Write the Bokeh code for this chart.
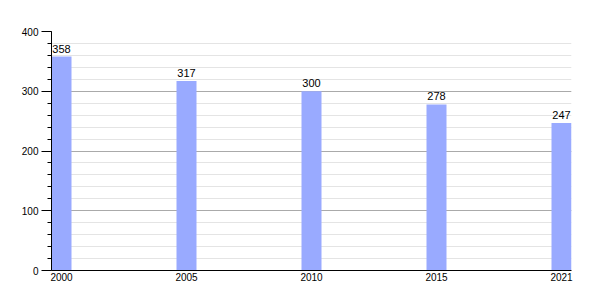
from bokeh.plotting import figure
from bokeh.models import ColumnDataSource, SingleIntervalTicker, FixedTicker, Range1d
from bokeh.core.properties import value
from bokeh.embed import file_html
from bokeh.resources import INLINE

years = ["2000", "2005", "2010", "2015", "2021"]
population = [358, 317, 300, 278, 247]

xs = list(range(len(years)))
src = ColumnDataSource(dict(x=xs, top=population, label=[str(v) for v in population]))

p = figure(width=600, height=300, output_backend="svg", toolbar_location=None,
           x_range=Range1d(-0.08, len(years) - 1 + 0.08), y_range=Range1d(0, 400),
           min_border_left=51, min_border_right=29, min_border_top=31, min_border_bottom=30)
p.outline_line_color = None
p.background_fill_color = "white"

p.vbar(x="x", top="top", width=0.16, source=src, fill_color="#99aaff", line_color=None)
p.text(x="x", y="top", text="label", source=src, text_align="center", text_baseline="bottom",
       y_offset=-4, text_font=value("Liberation Sans"), text_font_size="11px", text_color="black")

p.yaxis.ticker = SingleIntervalTicker(interval=100, num_minor_ticks=5)
p.ygrid.ticker = p.yaxis.ticker
p.ygrid.grid_line_color = "#aaaaaa"
p.ygrid.minor_grid_line_color = "#e4e4e4"
p.xgrid.grid_line_color = None

p.yaxis.major_tick_out = 10
p.yaxis.major_tick_in = 0
p.yaxis.minor_tick_out = 4
p.yaxis.minor_tick_in = 0
p.yaxis.axis_line_color = "black"
p.yaxis.major_tick_line_color = "black"
p.yaxis.minor_tick_line_color = "black"
p.yaxis.major_label_text_color = "black"
p.yaxis.major_label_text_font = "Liberation Sans"
p.yaxis.major_label_text_font_size = "10px"
p.yaxis.major_label_standoff = 3

p.xaxis.ticker = FixedTicker(ticks=xs)
p.xaxis.major_label_overrides = {i: y for i, y in enumerate(years)}
p.xaxis.major_tick_out = 0
p.xaxis.major_tick_in = 0
p.xaxis.minor_tick_out = 0
p.xaxis.axis_line_color = "black"
p.xaxis.major_label_text_color = "black"
p.xaxis.major_label_text_font = "Liberation Sans"
p.xaxis.major_label_text_font_size = "10px"
p.xaxis.major_label_standoff = 2

open("out.html", "w").write(file_html(p, INLINE))
